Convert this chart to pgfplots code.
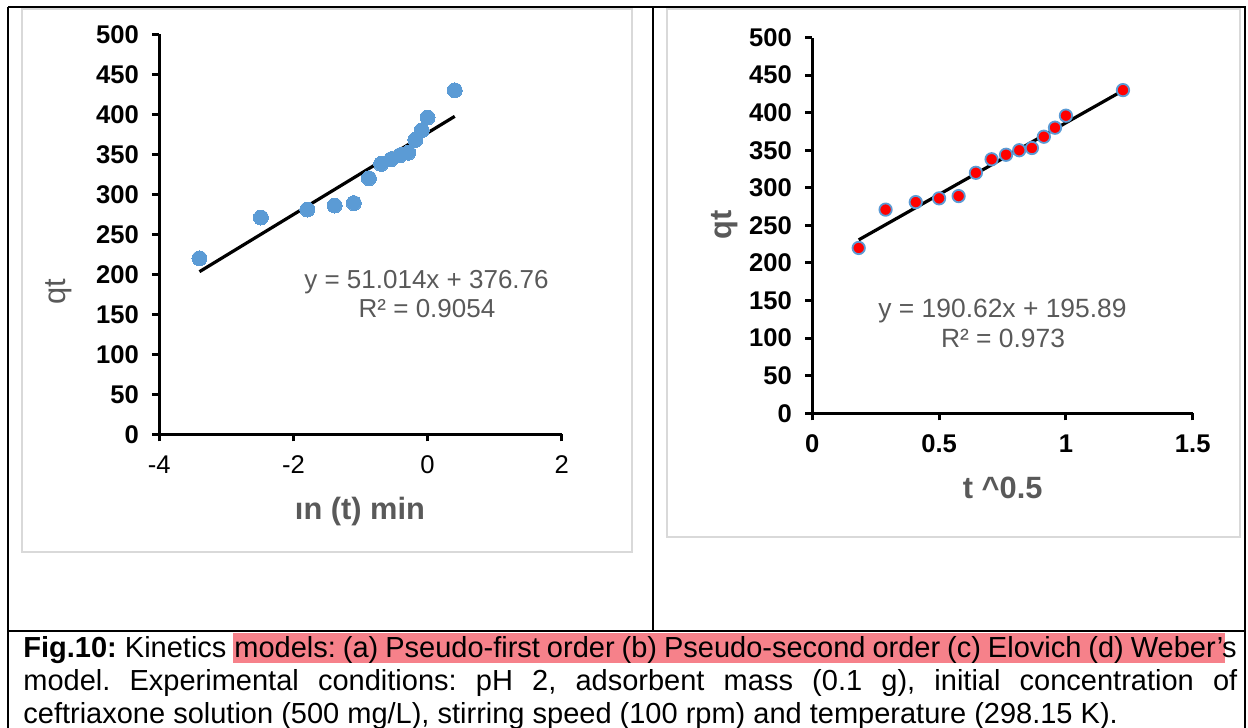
\documentclass[border=0pt]{standalone}
\usepackage{fontspec}
\setmainfont{Liberation Sans}
\usepackage{pgfplots}
\pgfplotsset{compat=1.18}
\definecolor{xlblue}{HTML}{5B9BD5}
\definecolor{xlgray}{HTML}{595959}
\definecolor{boxgray}{HTML}{D9D9D9}
\definecolor{hlpink}{RGB}{246,129,138}
\pgfplotsset{
  kin/.style={
    scale only axis,
    axis lines=left,
    axis line style={-, line width=1.5pt, black},
    tick align=outside,
    major tick length=3.5pt,
    tick style={line width=1.5pt, black},
    clip=false,
    ymin=0, ymax=500,
    ytick={0,50,...,500},
    /pgf/number format/assume math mode=true,
    yticklabel style={font=\fontsize{12.8}{14}\selectfont\bfseries, anchor=east, inner sep=0pt, xshift=-6.5pt},
    xticklabel style={anchor=north, inner sep=0pt, yshift=-7pt},
  }
}
\begin{document}
\frenchspacing
\begin{tikzpicture}
\useasboundingbox (0,0) rectangle (624pt,-364pt);
% table frame and chart boxes
\draw[boxgray, line width=0.8pt] (10.85pt,-4.5pt) rectangle (315.85pt,-275.85pt);
\draw[boxgray, line width=0.8pt] (333.35pt,-4.5pt) rectangle (620pt,-268.5pt);
\draw[black, line width=1pt] (4.15pt,-3.65pt) -- (623pt,-3.65pt);
\draw[black, line width=1pt] (4.15pt,-3.65pt) -- (4.15pt,-365pt);
\draw[black, line width=1pt] (622.5pt,-3.65pt) -- (622.5pt,-365pt);
\draw[black, line width=1.2pt] (326.5pt,-3.65pt) -- (326.5pt,-315.35pt);
\draw[black, line width=1pt] (4.15pt,-315.35pt) -- (622.5pt,-315.35pt);

% left chart: ln(t)
\begin{axis}[kin, at={(79.65pt,-217.15pt)}, anchor=south west,
  width=201.2pt, height=200pt,
  xmin=-4, xmax=2, xtick={-4,-2,0,2},
  xticklabel style={font=\fontsize{12.8}{14}\selectfont}]
\addplot[only marks, xlblue, mark=*, mark size=3.75pt, mark options={fill=xlblue, draw=xlblue, line width=0pt}] coordinates {
(-3.401,220) (-2.485,271) (-1.792,281) (-1.386,286) (-1.099,289) (-0.875,320) (-0.693,338)
(-0.539,344) (-0.405,349) (-0.288,352) (-0.182,368) (-0.087,380) (0,396) (0.405,430)};
\addplot[black, line width=1.6pt] coordinates {(-3.401,203.26) (0.405,397.42)};
\end{axis}

% right chart: t^0.5
\begin{axis}[kin, at={(406.15pt,-206.65pt)}, anchor=south west,
  width=190.2pt, height=187.9pt,
  xmin=0, xmax=1.5, xtick={0,0.5,1,1.5},
  xticklabel style={font=\fontsize{12.8}{14}\selectfont\bfseries}]
\addplot[only marks, mark=*, mark size=3.1pt, mark options={fill=red, draw=xlblue, line width=0.9pt}] coordinates {
(0.183,220) (0.289,271) (0.408,281) (0.5,286) (0.577,289) (0.645,320) (0.707,338)
(0.764,344) (0.816,350) (0.866,353) (0.913,368) (0.957,380) (1.0,396) (1.225,430)};
\addplot[black, line width=1.6pt] coordinates {(0.183,230.77) (1.225,429.40)};
\end{axis}

% axis titles
\node[anchor=base, text=xlgray, font=\fontsize{15.4}{18}\selectfont\bfseries] at (180pt,-259.65pt) {ın (t) min};
\node[anchor=base, text=xlgray, font=\fontsize{15.4}{18}\selectfont\bfseries] at (501.35pt,-249.15pt) {t \^{}0.5};
\node[rotate=90, text=xlgray, font=\fontsize{15.4}{18}\selectfont] at (29.5pt,-146pt) {qt};
\node[rotate=90, text=xlgray, font=\fontsize{15.4}{18}\selectfont\bfseries] at (362.5pt,-112.5pt) {qt};

% trendline equations
\node[anchor=base, text=xlgray, font=\fontsize{13}{15}\selectfont] at (213.25pt,-144.2pt) {y = 51.014x + 376.76};
\node[anchor=base, text=xlgray, font=\fontsize{13}{15}\selectfont] at (213.5pt,-158.65pt) {R² = 0.9054};
\node[anchor=base, text=xlgray, font=\fontsize{13.2}{15}\selectfont] at (501.25pt,-158.7pt) {y = 190.62x + 195.89};
\node[anchor=base, text=xlgray, font=\fontsize{13.2}{15}\selectfont] at (501.5pt,-173.75pt) {R² = 0.973};

% caption
\fill[hlpink] (116.5pt,-316.5pt) rectangle (612.5pt,-331.5pt);
\node[anchor=base west, inner sep=0pt, font=\fontsize{14.5}{17}\selectfont] at (11.5pt,-328.5pt) {\textbf{Fig.10:} Kinetics};
\node[anchor=base west, inner sep=0pt, font=\fontsize{14.5}{17}\selectfont] at (117pt,-328.5pt) {\hbox to 494.5pt{models: (a) Pseudo-first order (b) Pseudo-second order (c) Elovich (d) Weber’}};
\node[anchor=base east, inner sep=0pt, font=\fontsize{14.5}{17}\selectfont] at (618.5pt,-328.5pt) {s};
\node[anchor=base west, inner sep=0pt, font=\fontsize{14.5}{17}\selectfont] at (11.5pt,-345pt) {\hbox to 607pt{model. Experimental conditions: pH 2, adsorbent mass (0.1 g), initial concentration of}};
\node[anchor=base west, inner sep=0pt, font=\fontsize{14.5}{17}\selectfont] at (11.5pt,-361.5pt) {ceftriaxone solution (500 mg/L), stirring speed (100 rpm) and temperature (298.15 K).};
\end{tikzpicture}
\end{document}
